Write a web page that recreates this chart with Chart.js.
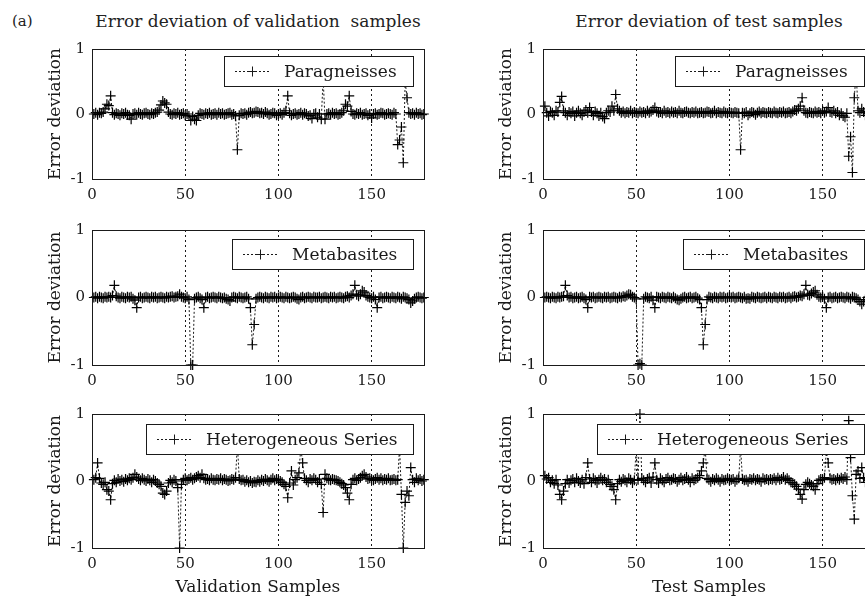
<!DOCTYPE html>
<html>
<head>
<meta charset="utf-8">
<script src="https://cdn.jsdelivr.net/npm/chart.js@4.4.0/dist/chart.umd.min.js"></script>
<style>
  html, body { margin: 0; padding: 0; background: #fff; overflow: hidden; width: 865px; height: 601px; }
  body { position: relative; font-family: 'DejaVu Serif', serif; color: #222; }
  canvas { position: absolute; }
  .txt { position: absolute; font-size: 17px; line-height: 20px; white-space: pre; }
</style>
</head>
<body>
<div class="txt" style="left:12px;top:11px;font-size:15px;">(a)</div>
<div class="txt" style="left:92px;width:332px;top:11px;text-align:center;">Error deviation of validation  samples</div>
<div class="txt" style="left:543px;width:332px;top:11px;text-align:center;">Error deviation of test samples</div>
<canvas id="pv"></canvas>
<canvas id="pt"></canvas>
<canvas id="mv"></canvas>
<canvas id="mt"></canvas>
<canvas id="hv"></canvas>
<canvas id="ht"></canvas>
<script>
// ---- data (error deviation per sample, samples 1..178) ----
var xTicks = [0, 50, 100, 150];
var yTicks = [-1, 0, 1];
var xMax = 178;
var yTitle = 'Error deviation';
var xTitles = ['Validation Samples', 'Test Samples'];
var seriesNames = ['Paragneisses', 'Metabasites', 'Heterogeneous Series'];

var paraVal = [
  0, 0.02, -0.01, 0.02, 0.01, 0.03, 0.08, 0.15, 0.13, 0.28,
  0.02, -0.01, 0.01, 0, -0.02, 0.01, 0, 0.02, -0.01, -0.02,
  -0.08, 0, 0.01, -0.01, 0.02, 0, -0.01, 0.01, 0.02, 0,
  -0.01, 0.01, 0, 0.02, 0.03, 0.06, 0.14, 0.2, 0.17, 0.15,
  0.03, 0, -0.01, 0.01, 0, 0.02, -0.01, 0, 0.01, -0.02,
  0, -0.03, -0.1, -0.04, -0.08, -0.1, -0.02, 0.01, 0, -0.01,
  0.01, 0, 0.02, -0.01, 0, 0.01, -0.01, 0.02, 0, 0.01,
  -0.01, 0, 0.01, 0.02, -0.01, 0, -0.03, -0.55, -0.02, 0.01,
  0, 0.01, -0.01, 0.02, 0.03, 0.01, 0.02, 0.04, 0.03, 0.01,
  0.02, 0, 0.03, 0.01, -0.01, 0, 0.02, 0.01, -0.02, 0,
  0.01, -0.01, 0.02, 0.05, 0.28, 0.01, -0.02, 0, 0.01, -0.01,
  0, 0.02, -0.01, 0.01, 0, -0.03, -0.02, -0.07, 0, 0.01,
  -0.05, 0, -0.08, 0.55, -0.08, 0, 0.01, -0.01, 0.02, 0,
  0.01, -0.01, 0, 0.02, 0.05, 0.15, 0.12, 0.28, 0.04, 0,
  -0.01, 0.01, 0, 0.02, -0.01, 0, 0.01, -0.02, 0, -0.06,
  0, 0.01, -0.01, 0, 0.02, 0.01, -0.01, 0, 0.01, 0,
  -0.01, 0.02, 0, -0.47, -0.4, -0.2, -0.75, 0.5, 0.25, 0.02,
  0, 0.01, -0.01, 0.02, 0, 0.01, -0.01, 0
];
var paraTest = [
  0.12, 0.02, -0.03, 0.04, 0.02, -0.02, 0.05, 0.03, 0.18, 0.27,
  0.05, 0.02, -0.02, 0.03, 0.01, 0.04, -0.03, 0.02, 0.05, 0.01,
  -0.02, 0.03, 0.06, 0.02, 0.1, 0.03, -0.02, 0.04, 0.01, -0.03,
  0.02, -0.04, -0.07, 0.02, 0.05, 0.03, 0.12, 0.05, 0.3, 0.08,
  0.05, 0.02, 0.04, 0.01, 0.03, 0.02, 0.05, 0.01, 0.03, 0.02,
  0.01, 0.04, 0.02, 0.03, 0.01, 0.05, 0.02, 0.04, 0.06, 0.1,
  0.04, 0.02, 0.03, 0.01, 0.05, 0.02, 0.03, 0.01, 0.04, 0.02,
  0.03, 0.01, 0.05, 0.02, 0.01, 0.03, 0.04, 0.02, 0.01, 0.03,
  0.02, 0.04, 0.01, 0.02, 0.03, 0.01, 0.02, 0.04, 0.03, 0.01,
  0.02, 0.05, 0.01, 0.03, 0.02, 0.01, 0.04, 0.02, 0.01, 0.03,
  0.02, 0.01, 0.03, 0.02, 0.01, -0.55, 0.02, 0.01, 0.03, -0.02,
  0.01, 0.03, 0.02, -0.01, 0.02, 0.04, 0.01, 0.03, 0.02, 0.01,
  0.03, 0.02, 0.01, 0.04, 0.02, 0.01, 0.03, 0.02, 0.04, 0.01,
  0.02, 0.03, 0.01, 0.04, 0.06, 0.05, 0.08, 0.12, 0.25, 0.05,
  0.02, 0.01, 0.03, 0.02, 0.01, 0.04, 0.02, 0.03, 0.01, 0.05,
  0.02, 0.04, 0.1, 0.03, 0.02, 0.05, 0.01, 0.03, -0.02, 0.01,
  -0.03, -0.05, 0.01, -0.65, -0.35, -0.9, 0.25, 0.65, 0.05, 0.02,
  0.08, 0.03, -0.02, 0.04, 0.01, 0.02, 0.03, 0.01
];
var metaVal = [
  0, 0.01, -0.01, 0.01, 0, -0.01, 0.01, 0, 0.01, 0,
  0.03, 0.18, 0.02, 0, -0.01, 0.01, 0, -0.01, 0.01, 0,
  0.01, -0.02, -0.04, -0.15, 0, 0.01, -0.01, 0, 0.01, 0,
  -0.01, 0.01, 0, 0.01, -0.01, 0, 0.01, 0, -0.01, 0.01,
  0, 0.01, 0.02, 0, 0.01, 0.02, 0.05, 0.01, 0, -0.01,
  0.01, -0.03, -1, -1, -0.02, 0, 0.01, -0.01, -0.03, -0.15,
  0, 0.01, -0.01, 0, 0.01, 0, -0.01, 0.01, 0, -0.01,
  0, -0.02, -0.03, -0.05, 0, 0.01, 0, -0.01, 0.01, 0,
  -0.01, 0, 0.01, -0.02, -0.15, -0.7, -0.4, -0.02, 0, 0.01,
  0, -0.01, 0.01, 0, -0.01, 0.01, 0, 0.01, -0.01, 0,
  0.01, 0, -0.01, 0.01, 0, -0.01, 0, 0.01, 0, -0.02,
  -0.03, 0, 0.01, -0.01, 0, 0.01, 0, -0.01, 0.01, 0,
  0, 0.01, -0.01, 0, 0.01, 0, -0.01, 0.01, 0, 0.01,
  -0.01, 0, 0.01, 0, -0.01, 0.01, 0.02, 0, 0.03, 0.05,
  0.18, 0.04, 0.02, 0.05, 0.1, 0.08, 0.03, 0.01, 0, -0.01,
  0.01, -0.03, -0.15, 0, 0.01, -0.01, 0, 0.01, 0, -0.01,
  0.01, 0, -0.01, 0.01, 0, -0.02, 0.01, 0, -0.01, -0.03,
  -0.08, -0.05, -0.02, 0, 0.01, 0, -0.01, 0
];
var metaTest = [
  0, 0.01, 0, -0.01, 0.01, 0, -0.01, 0.01, 0, 0.01,
  0.02, 0.18, 0.03, 0, 0.01, -0.01, 0, 0.01, -0.01, 0,
  0.01, -0.01, -0.03, -0.15, 0.01, 0, 0.01, -0.01, 0, 0.01,
  0, -0.01, 0.01, 0, 0.01, -0.01, 0, 0.01, 0, -0.01,
  0.01, 0, 0.02, 0.01, 0.03, 0.05, 0.04, 0.01, 0, -0.02,
  -1, -0.98, -1, -0.02, 0.01, 0, -0.01, 0.01, -0.04, -0.15,
  0.01, 0, -0.01, 0.01, 0, -0.01, 0.01, 0, -0.01, 0.01,
  -0.01, -0.03, -0.04, -0.02, 0, 0.01, -0.01, 0, 0.01, -0.01,
  0, 0.01, -0.01, -0.03, -0.15, -0.7, -0.4, -0.03, 0.01, 0,
  -0.01, 0.01, 0, -0.01, 0.01, 0, 0.01, -0.01, 0, 0.01,
  0, 0.01, -0.01, 0, 0.01, 0, -0.01, 0.01, -0.02, -0.01,
  -0.02, 0.01, 0, -0.01, 0.01, 0, -0.01, 0, 0.01, -0.01,
  0.01, 0, -0.01, 0.01, 0, -0.01, 0.01, 0, 0.01, -0.01,
  0, 0.01, -0.01, 0.01, 0.02, 0, 0.01, 0.03, 0.02, 0.05,
  0.18, 0.04, 0.03, 0.06, 0.08, 0.1, 0.04, 0.01, 0, 0.01,
  -0.02, -0.15, 0, 0.01, -0.01, 0, 0.01, -0.01, 0, 0.01,
  0, -0.01, 0.01, 0, -0.02, 0.01, 0, -0.01, -0.03, -0.06,
  -0.1, -0.06, -0.03, 0, 0.01, -0.01, 0, 0.01
];
var heteroVal = [
  0.02, 0.05, 0.27, 0.04, -0.03, -0.05, -0.02, -0.13, -0.15, -0.28,
  -0.04, 0.01, -0.02, 0.03, 0, 0.02, -0.01, 0.03, 0.01, 0.04,
  0.02, 0.05, 0.1, 0.06, 0.03, 0.01, 0.04, 0.02, 0, 0.03,
  0.01, -0.02, 0.02, 0, -0.03, -0.05, -0.08, -0.18, -0.2, -0.15,
  -0.03, 0.01, -0.02, 0.02, 0, -0.1, -1, -0.05, 0.02, 0.04,
  0.01, 0.03, 0.05, 0.02, 0.04, 0.06, 0.08, 0.05, 0.1, 0.04,
  0.02, 0.03, 0.01, 0.04, 0.02, 0.01, 0.03, 0.02, 0.04, 0.01,
  0.03, 0.02, 0, 0.01, 0.03, 0.02, 0.05, 0.55, 0.03, 0.01,
  0.02, -0.01, 0.01, -0.02, 0, -0.03, -0.01, -0.02, 0.01, -0.01,
  0.02, 0, 0.03, 0.01, -0.01, 0.02, 0.04, 0.01, 0.03, 0.02,
  0, -0.02, -0.05, -0.08, -0.25, -0.03, 0.15, -0.06, 0.02, 0.05,
  0.12, 0.5, 0.27, 0.04, 0.01, -0.02, 0.03, 0.01, 0.04, 0.02,
  -0.02, 0.03, -0.05, -0.47, 0.1, 0.04, 0.02, 0.01, 0.03, 0.02,
  0.01, 0, -0.02, -0.04, -0.06, -0.1, -0.18, -0.28, -0.05, 0.02,
  0.04, 0.01, 0.03, 0.05, 0.08, 0.1, 0.06, 0.03, 0.04, 0.02,
  0.01, 0.03, 0.05, 0.02, 0.04, 0.01, 0.03, 0.02, 0.04, 0.01,
  0.02, 0.03, 0.01, 0.02, 0.5, -0.2, -1, -0.32, -0.15, -0.22,
  0.2, 0.02, -0.02, 0.04, 0.01, 0.03, 0, 0.02
];
var heteroTest = [
  0.08, 0.03, 0.05, -0.02, 0.01, -0.04, 0.02, -0.06, -0.2, -0.28,
  -0.15, -0.04, 0.02, -0.03, 0.01, 0.03, -0.02, 0.04, 0, -0.03,
  0.02, -0.04, 0.05, 0.27, 0.03, -0.02, 0.04, 0.01, -0.03, 0.02,
  0.05, 0.01, 0.03, -0.02, 0.02, -0.05, -0.08, -0.13, -0.28, -0.04,
  0.02, -0.01, 0.03, 0.01, -0.02, 0.04, 0.02, -0.03, 0.01, 0.5,
  0.02, 1, 0.04, 0.01, -0.02, 0.03, 0.05, -0.03, 0.06, 0.27,
  0.02, -0.03, 0.04, 0.01, -0.02, 0.03, 0.05, 0.01, 0.02, 0.04,
  0.03, -0.01, 0.02, 0.05, 0.01, 0.03, 0.06, 0.02, -0.02, 0.04,
  0.01, 0.03, 0.05, 0.08, 0.15, 0.27, 0.5, 0.04, 0.02, -0.01,
  0.03, 0.01, 0.04, 0.02, -0.01, 0.03, 0.01, 0.02, 0.04, 0.01,
  0.02, 0.03, -0.01, 0.02, 0.04, 0.5, 0.03, 0.01, 0.02, -0.01,
  0.03, 0.02, 0.04, 0.01, 0.03, 0.02, -0.01, 0.04, 0.02, 0.03,
  0.01, 0.03, 0.02, 0.04, 0.01, 0.05, 0.02, 0.03, 0.06, 0.02,
  0.04, 0.01, -0.02, -0.03, -0.05, -0.08, -0.12, -0.2, -0.27, -0.13,
  -0.05, -0.02, -0.04, -0.06, -0.08, -0.13, -0.04, 0.01, 0.03, 0.02,
  0.05, 0.45, 0.27, 0.04, 0.02, 0.03, 0.01, 0.04, 0.02, 0.05,
  0.03, 0.06, 0.02, 0.9, 0.35, -0.22, -0.57, 0.1, 0.15, 0.04,
  0.2, 0.05, -0.02, 0.03, 0.01, 0.04, 0.02, 0.01
];

// ---- layout ----
var INK = '#1a1a1a';
var FONT_FAMILY = "'DejaVu Serif', serif";
var colLeft = [92, 543];
var plotW = 332;
var rows = [
  { top: 43, h: 136, legendTop: 7 },
  { top: 224, h: 141, legendTop: 9 },
  { top: 408, h: 140, legendTop: 10 }
];
var Y_AXIS_W = 47, PAD_TOP = 10, PAD_RIGHT = 6;

var panels = [
  { id: 'pv', data: paraVal, row: 0, col: 0 },
  { id: 'pt', data: paraTest, row: 0, col: 1 },
  { id: 'mv', data: metaVal, row: 1, col: 0 },
  { id: 'mt', data: metaTest, row: 1, col: 1 },
  { id: 'hv', data: heteroVal, row: 2, col: 0 },
  { id: 'ht', data: heteroTest, row: 2, col: 1 }
];

// frame box + matlab-like legend inside the axes
var frameLegendPlugin = {
  id: 'frameLegend',
  afterDatasetsDraw: function (chart, args, opts) {
    var a = chart.chartArea, ctx = chart.ctx;
    ctx.save();
    ctx.strokeStyle = INK;
    ctx.lineWidth = 1;
    ctx.strokeRect(Math.round(a.left) + 0.5, Math.round(a.top) + 0.5,
      Math.round(a.right - a.left), Math.round(a.bottom - a.top));

    ctx.font = '17px ' + FONT_FAMILY;
    var tw = ctx.measureText(opts.text).width;
    var w = Math.round(76 + tw), h = 30;
    var x = Math.round(a.right - 11 - w), y = Math.round(a.top + opts.top);
    ctx.fillStyle = '#fff';
    ctx.fillRect(x, y, w, h);
    ctx.strokeRect(x + 0.5, y + 0.5, w, h);

    var my = y + h / 2 + 0.5, cx = x + 28;
    ctx.setLineDash([2, 2]);
    ctx.beginPath();
    ctx.moveTo(x + 11, my);
    ctx.lineTo(x + 45, my);
    ctx.stroke();
    ctx.setLineDash([]);
    ctx.beginPath();
    ctx.moveTo(cx - 5, my); ctx.lineTo(cx + 5, my);
    ctx.moveTo(cx + 0.5, my - 5); ctx.lineTo(cx + 0.5, my + 5);
    ctx.stroke();

    ctx.fillStyle = INK;
    ctx.textBaseline = 'middle';
    ctx.textAlign = 'left';
    ctx.fillText(opts.text, x + 60, my + 1);
    ctx.restore();
  }
};

function renderPanel(p) {
  var row = rows[p.row];
  var isBottom = p.row === 2;
  var xh = isBottom ? 50 : 30;
  var canvas = document.getElementById(p.id);
  var cw = Y_AXIS_W + plotW + PAD_RIGHT;
  var ch = PAD_TOP + row.h + xh;
  canvas.width = cw;
  canvas.height = ch;
  canvas.style.left = (colLeft[p.col] - Y_AXIS_W) + 'px';
  canvas.style.top = (row.top - PAD_TOP) + 'px';

  var points = p.data.map(function (v, i) { return { x: i + 1, y: v }; });
  var tickFont = { family: FONT_FAMILY, size: 15 };
  var labelFont = { family: FONT_FAMILY, size: 17 };

  new Chart(canvas, {
    type: 'line',
    data: {
      datasets: [{
        data: points,
        borderColor: INK,
        borderWidth: 1,
        borderDash: [2, 2],
        pointStyle: 'cross',
        pointRadius: 5,
        pointHoverRadius: 5,
        pointBorderColor: '#000',
        pointBorderWidth: 1.2,
        tension: 0,
        fill: false,
        clip: false
      }]
    },
    options: {
      responsive: false,
      animation: false,
      events: [],
      layout: { padding: { top: PAD_TOP, right: PAD_RIGHT, left: 0, bottom: 0 } },
      plugins: {
        legend: { display: false },
        tooltip: { enabled: false },
        frameLegend: { text: seriesNames[p.row], top: row.legendTop }
      },
      scales: {
        x: {
          type: 'linear',
          min: 0,
          max: xMax,
          afterBuildTicks: function (s) { s.ticks = xTicks.map(function (v) { return { value: v }; }); },
          afterFit: function (s) { s.height = xh; },
          grid: {
            drawTicks: false,
            lineWidth: 1,
            color: function (c) { return c.tick && c.tick.value === 0 ? 'rgba(0,0,0,0)' : INK; }
          },
          border: { display: true, color: INK, width: 1, dash: [2, 3] },
          ticks: { color: INK, font: tickFont, padding: 7, maxRotation: 0, autoSkip: false },
          title: { display: isBottom, text: xTitles[p.col], color: INK, font: labelFont, padding: 0 }
        },
        y: {
          min: -1,
          max: 1,
          afterBuildTicks: function (s) { s.ticks = yTicks.map(function (v) { return { value: v }; }); },
          afterFit: function (s) { s.width = Y_AXIS_W; },
          grid: { display: false, drawTicks: false },
          border: { display: true, color: INK, width: 1 },
          ticks: { color: INK, font: tickFont, padding: 7, autoSkip: false },
          title: { display: true, text: yTitle, color: INK, font: labelFont, padding: 0 }
        }
      }
    },
    plugins: [frameLegendPlugin]
  });
}

panels.forEach(renderPanel);
</script>
</body>
</html>
